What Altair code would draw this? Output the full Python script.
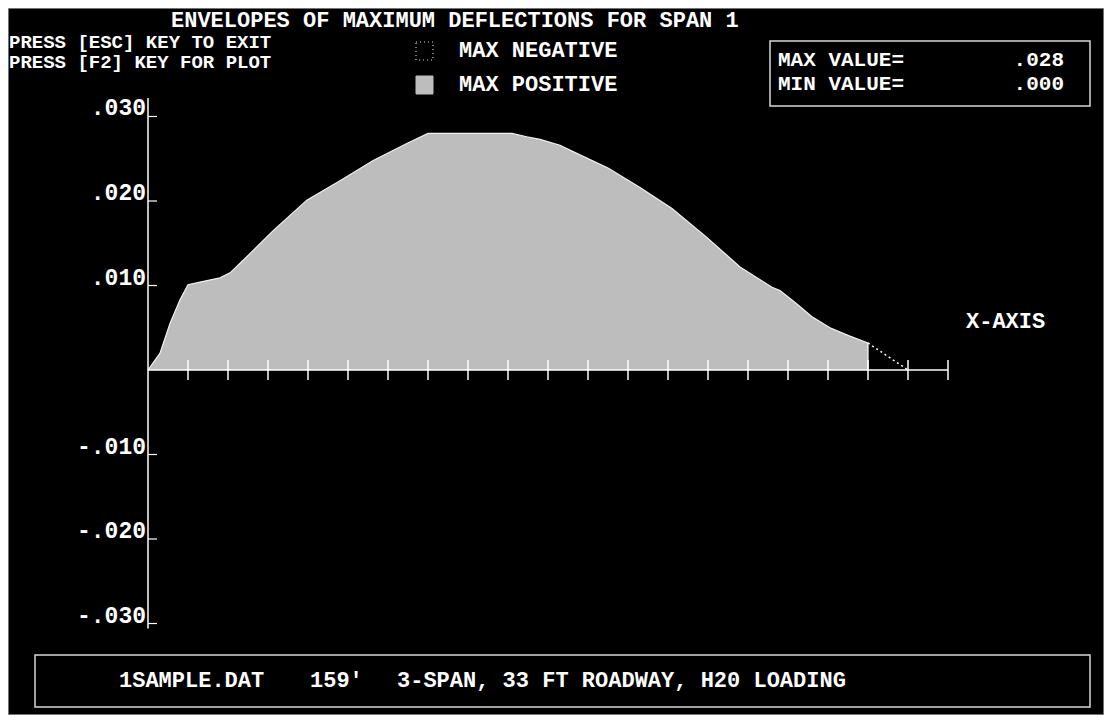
import altair as alt
import pandas as pd

# ---------------- data ----------------
span_x = [0.0, 0.3, 0.55, 0.8, 1.0, 1.3, 1.8, 2.05, 2.47, 3.13, 3.97, 4.8, 5.63, 6.47,
          7.0, 9.1, 9.47, 9.8, 10.3, 10.6, 11.5, 12.3, 13.1, 13.97, 14.8, 15.6, 15.8,
          16.2, 16.6, 17.05, 17.5, 18.0]
max_pos = [0.0, 0.0020, 0.0055, 0.0083, 0.0101, 0.0104, 0.0109, 0.0115, 0.0134, 0.0165,
           0.0201, 0.0224, 0.0248, 0.0268, 0.0280, 0.0280, 0.0276, 0.0273, 0.0266, 0.0259,
           0.0239, 0.0216, 0.0191, 0.0157, 0.0122, 0.0098, 0.0094, 0.0079, 0.0063, 0.0050,
           0.0041, 0.0032]
tail_x = [18.0, 19.0]
tail_y = [0.0032, 0.0]
x_ticks = list(range(1, 21))
y_tick_vals = [0.03, 0.02, 0.01, -0.01, -0.02, -0.03]
y_tick_labels = [".030", ".020", ".010", "-.010", "-.020", "-.030"]
title_text = "ENVELOPES OF MAXIMUM DEFLECTIONS FOR SPAN 1"
help_lines = ["PRESS [ESC] KEY TO EXIT", "PRESS [F2] KEY FOR PLOT"]
legend_labels = ["MAX NEGATIVE", "MAX POSITIVE"]
stat_labels = ["MAX VALUE=", "MIN VALUE="]
stat_values = [".028", ".000"]
footer_parts = ["1SAMPLE.DAT", "159'", "3-SPAN, 33 FT ROADWAY, H20 LOADING"]
x_axis_label = "X-AXIS"

# ---------------- layout ----------------
W, H = 1096, 707
FONT = "Liberation Mono"
FILL = "#bdbdbd"
xs = alt.Scale(domain=[-3.5, 23.9], nice=False, zero=False)
ys = alt.Scale(domain=[-0.040828, 0.042840], nice=False, zero=False)

curve = pd.DataFrame({"u": span_x, "v": max_pos})
tail = pd.DataFrame({"u": tail_x, "v": tail_y})
xt = pd.DataFrame({"u": x_ticks})
yt = pd.DataFrame({"v": y_tick_vals, "lab": y_tick_labels})
one = pd.DataFrame({"k": [0]})

X = lambda f="u:Q": alt.X(f, scale=xs, axis=None)
Y = lambda f="v:Q": alt.Y(f, scale=ys, axis=None)

area = alt.Chart(curve).mark_area(color=FILL, opacity=1, interpolate="linear").encode(
    x=X(), y=Y(), y2=alt.datum(0))
edge = alt.Chart(curve).mark_line(color="#f2f2f2", strokeWidth=1.2).encode(x=X(), y=Y())
end_edge = alt.Chart(one).mark_rule(color="white", strokeWidth=1.2).encode(
    x=alt.datum(18, scale=xs, axis=None), y=alt.datum(0.0032, scale=ys, axis=None), y2=alt.datum(0))
tail_line = alt.Chart(tail).mark_line(color="white", strokeWidth=1.5, strokeDash=[2, 3]).encode(
    x=X(), y=Y())

x_axis = alt.Chart(one).mark_rule(color="white", strokeWidth=1.5).encode(
    x=alt.datum(0, scale=xs, axis=None), x2=alt.datum(20), y=alt.datum(0, scale=ys, axis=None))
y_axis = alt.Chart(one).mark_rule(color="white", strokeWidth=1.5).encode(
    x=alt.datum(0, scale=xs, axis=None), y=alt.datum(0.0322, scale=ys, axis=None), y2=alt.datum(-0.0306))
x_tick_marks = alt.Chart(xt).mark_rule(color="white", strokeWidth=1.5).encode(
    x=X(), y=alt.value(352), y2=alt.value(372))
y_tick_marks = alt.Chart(yt).mark_rule(color="white", strokeWidth=1.2).encode(
    y=Y(), x=alt.value(140), x2=alt.value(149))
y_labels = alt.Chart(yt).mark_text(color="white", font=FONT, fontWeight="bold", fontSize=23,
                                   align="right", baseline="alphabetic", dy=-1).encode(
    y=Y(), x=alt.value(138), text="lab:N")


def txt(s, x, y, size=23, align="left"):
    return alt.Chart(one).mark_text(color="white", font=FONT, fontWeight="bold", fontSize=size,
                                    align=align, baseline="alphabetic", text=s).encode(
        x=alt.value(x), y=alt.value(y))


def box(x1, x2, y1, y2, stroke="#d8d8d8", fill=None, dash=None, sw=1.5):
    kw = dict(stroke=stroke, strokeWidth=sw)
    if fill is None:
        kw["filled"] = False
        kw["fillOpacity"] = 0
    else:
        kw["fill"] = fill
    if dash:
        kw["strokeDash"] = dash
    return alt.Chart(one).mark_rect(**kw).encode(
        x=alt.value(x1), x2=alt.value(x2), y=alt.value(y1), y2=alt.value(y2))


texts = [
    txt(title_text, 163, 19, size=22),
    txt(help_lines[0], 1, 40, size=19),
    txt(help_lines[1], 1, 60, size=19),
    txt(legend_labels[0], 451, 49, size=22),
    txt(legend_labels[1], 451, 83, size=22),
    txt(stat_labels[0], 770, 58, size=21),
    txt(stat_labels[1], 770, 82, size=21),
    txt(stat_values[0], 1056, 58, size=21, align="right"),
    txt(stat_values[1], 1056, 82, size=21, align="right"),
    txt(x_axis_label, 958, 320, size=22),
    txt(footer_parts[0], 111, 679, size=22),
    txt(footer_parts[1], 302, 679, size=22),
    txt(footer_parts[2], 389, 679, size=22),
]

boxes = [
    box(408, 425, 34, 52, stroke="#cfcfcf", dash=[1, 3], sw=1.2),
    box(408, 425, 68, 86, stroke=FILL, fill=FILL, sw=1),
    box(762, 1082, 33, 98),
    box(27, 1082, 647, 699),
]

chart = alt.layer(
    area, edge, end_edge, tail_line, x_axis, y_axis, x_tick_marks, y_tick_marks, y_labels,
    *boxes, *texts
).properties(
    width=W, height=H, padding=0,
    autosize=alt.AutoSizeParams(type="none"),
    background="black",
).configure_view(stroke="#9a9a9a", strokeWidth=1.5)

chart.save("out.html", embed_options={"renderer": "svg", "actions": False})
